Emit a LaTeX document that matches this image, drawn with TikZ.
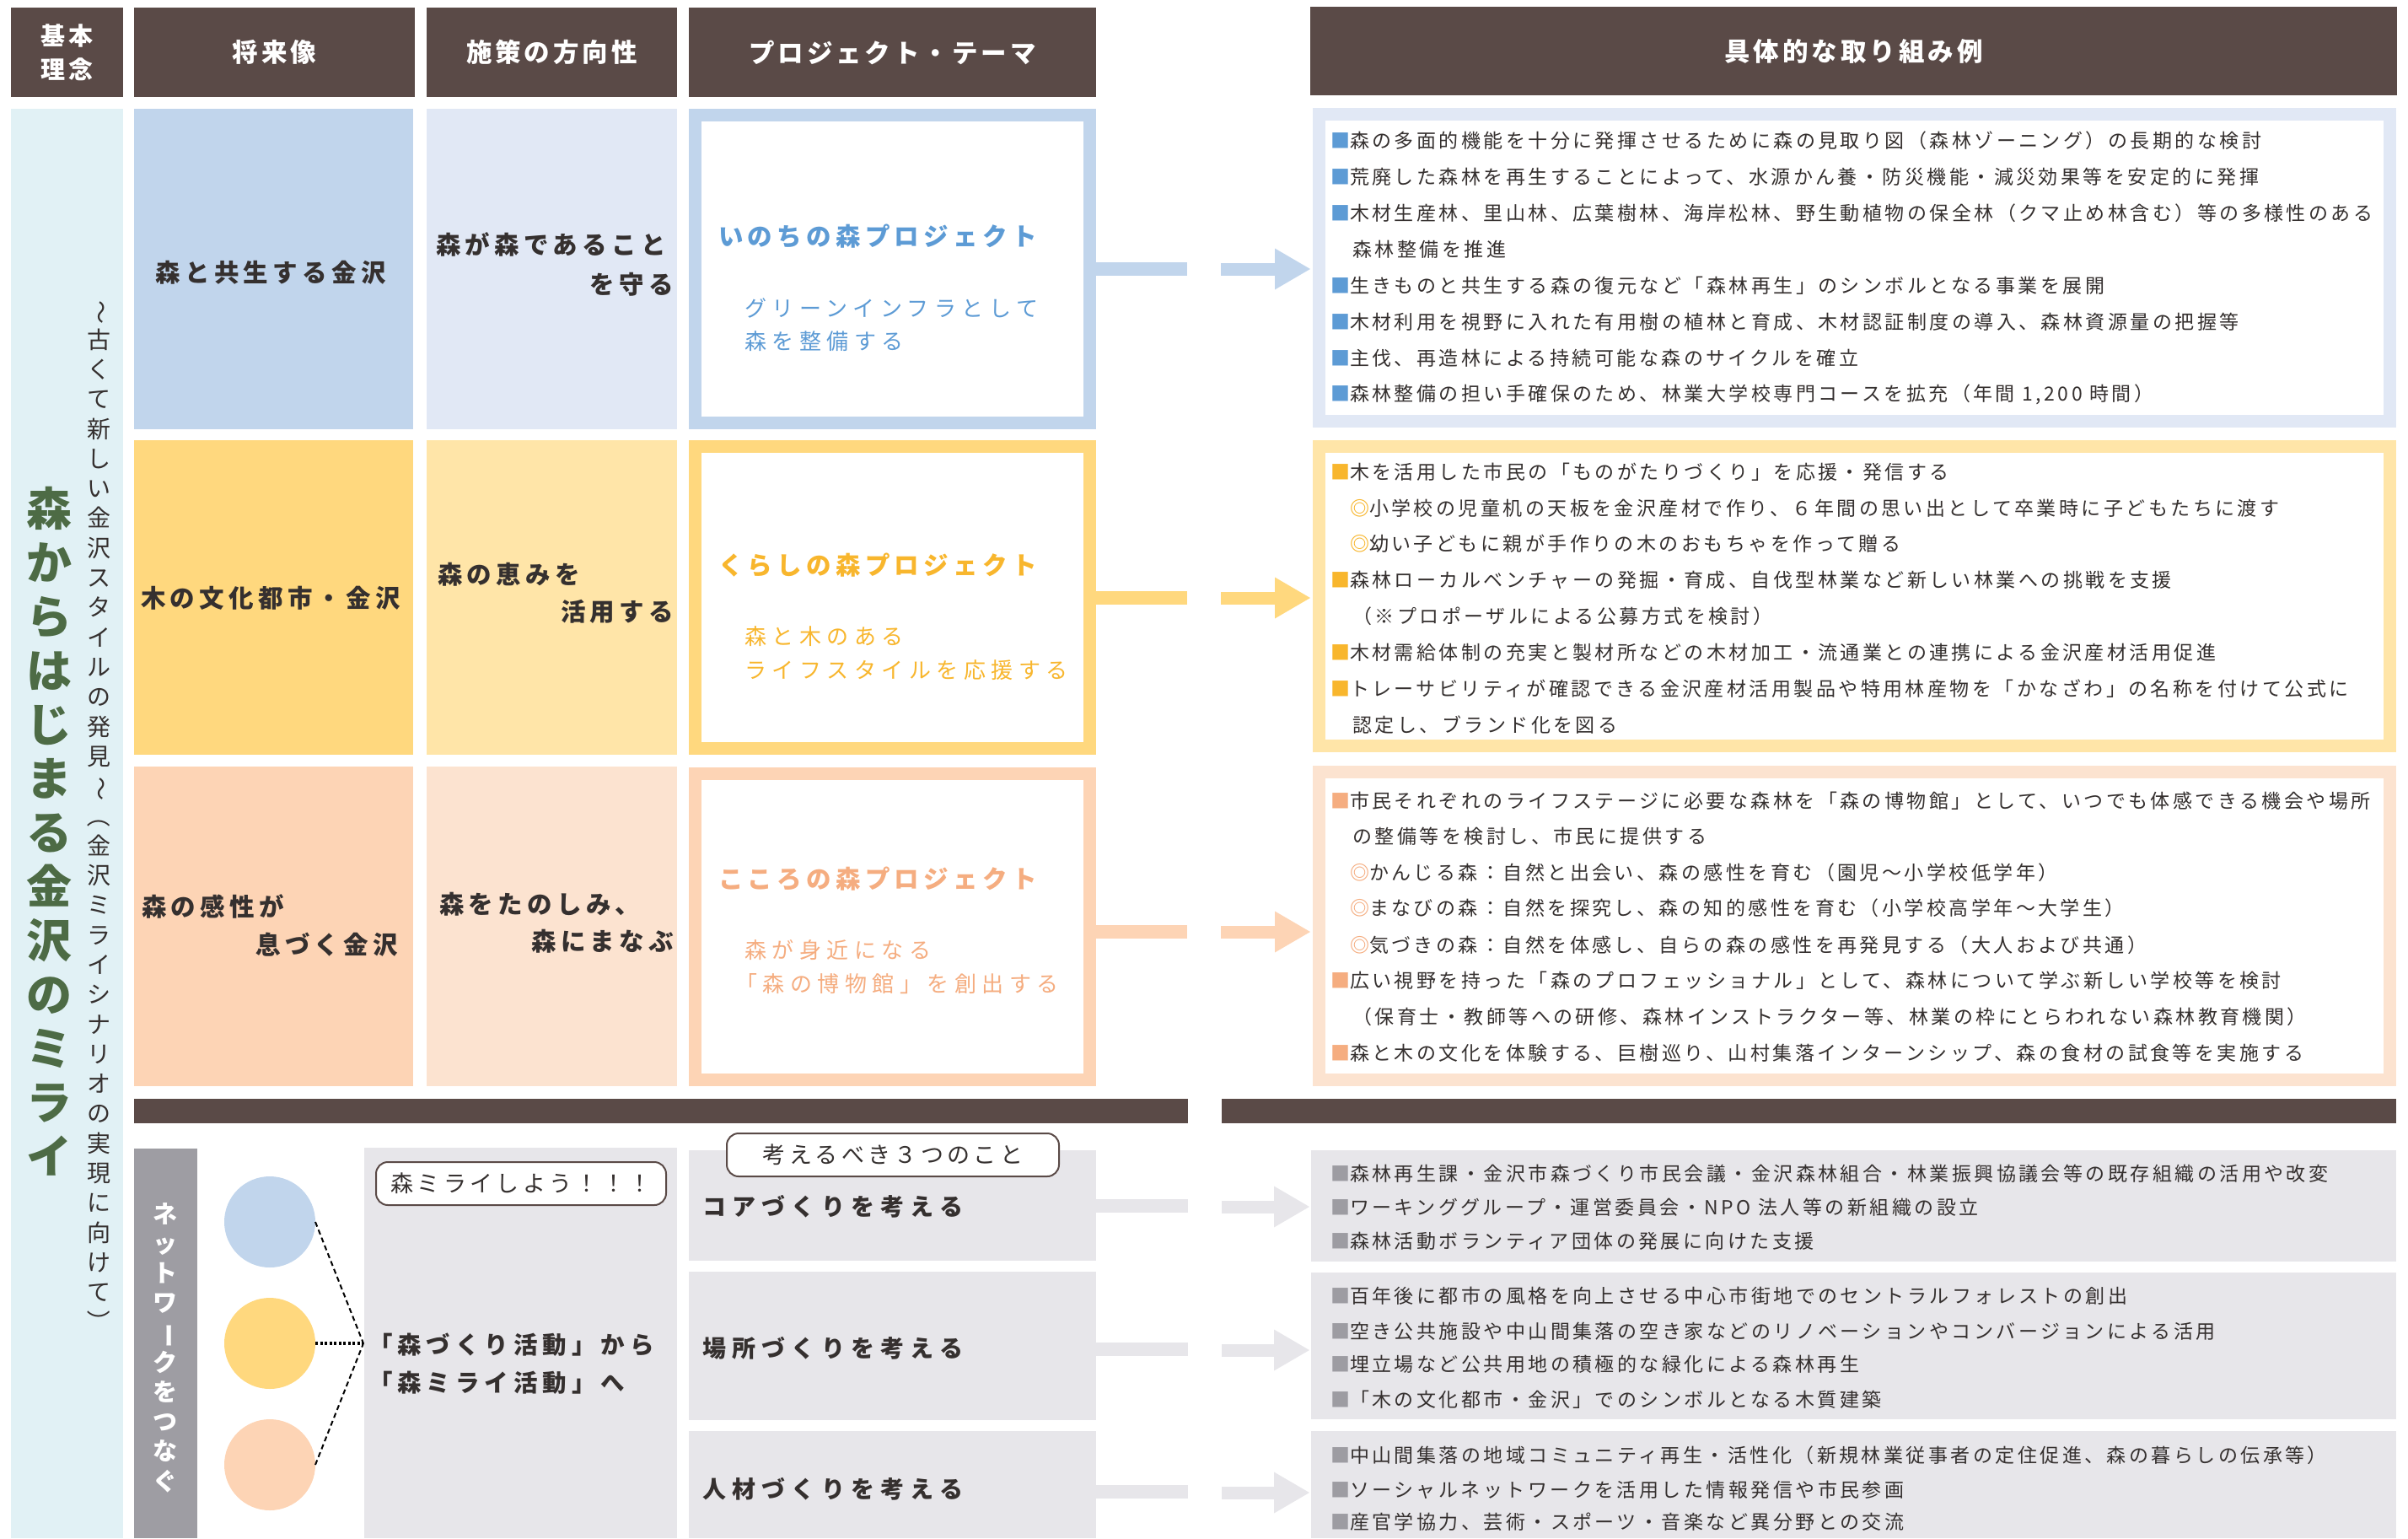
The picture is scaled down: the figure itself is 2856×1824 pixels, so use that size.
\documentclass[tikz,border=0pt]{standalone}
\usepackage{fontspec}
\setmainfont{Noto Sans CJK JP}
\usepackage{graphicx}
\usetikzlibrary{arrows.meta}
\definecolor{hdr}{HTML}{5A4A47}
\definecolor{txt}{HTML}{35302F}
\definecolor{cyanS}{HTML}{E1F1F5}
\definecolor{green}{HTML}{4D6B45}
\definecolor{bluA}{HTML}{C1D5EC}
\definecolor{bluB}{HTML}{E1E8F5}
\definecolor{yelA}{HTML}{FFD87E}
\definecolor{yelB}{HTML}{FFE5A8}
\definecolor{pchA}{HTML}{FDD4B5}
\definecolor{pchB}{HTML}{FCE3D0}
\definecolor{grayA}{HTML}{E7E6EA}
\definecolor{grayB}{HTML}{9E9DA3}
\definecolor{bluT}{HTML}{5D9BD5}
\definecolor{yelT}{HTML}{F8B62D}
\definecolor{pchT}{HTML}{F5AD80}
\definecolor{bulD}{HTML}{9D9CA2}
\newcommand\bA{\textcolor{bluT}{■}}
\newcommand\bB{\textcolor{yelT}{■}}
\newcommand\bC{\textcolor{pchT}{■}}
\newcommand\bD{\textcolor{bulD}{■}}
\newcommand\oB{\textcolor{yelT}{\bfseries ◎}}
\newcommand\oC{\textcolor{pchT}{\bfseries ◎}}
\newcommand\vr[1]{\rotatebox[origin=c]{-90}{#1}}
\newcommand\fbody{\fontsize{23}{26}\selectfont\addfontfeatures{LetterSpace=15}}
\newcommand\fhead{\fontsize{30.5}{40}\selectfont\bfseries\addfontfeatures{LetterSpace=13}}
\newcommand\flabel{\fontsize{29.5}{36}\selectfont\bfseries\addfontfeatures{LetterSpace=18}}
\newcommand\fsub{\fontsize{26}{30}\selectfont\addfontfeatures{LetterSpace=25}}
\tikzset{
  every node/.style={inner sep=0pt, outer sep=0pt},
  plain/.style={anchor=north west, draw=none},
  thick box/.style={anchor=north west, line width=15, fill=white},
  body/.style={font=\fbody, text=txt, anchor=west},
  hdrbox/.style={plain, fill=hdr, text=white, font=\fhead, align=center},
  label/.style={font=\flabel, text=txt},
  ptitle/.style={font=\flabel, anchor=west},
  psub/.style={font=\fsub, anchor=west},
  stub/.style={line width=16},
  blockarrow/.style={line width=15, -{Triangle[length=42pt,width=49pt,line width=0pt]}},
  tag/.style={draw=hdr, line width=2, fill=white, rounded corners=14, text=txt},
  dashl/.style={line width=2, dash pattern=on 6pt off 4pt, draw=black},
  dotl/.style={line width=3.5, dash pattern=on 3pt off 2.5pt, draw=black},
}
\begin{document}
\begin{tikzpicture}[x=1pt,y=-1pt]
\useasboundingbox (0,0) rectangle (2856,1824);
\clip (0,0) rectangle (2856,1824);
% headers
\node[hdrbox, minimum width=133, minimum height=106, font=\fontsize{29}{40}\selectfont\bfseries\addfontfeatures{LetterSpace=14}] (h0) at (13,9) {基本\\理念};
\node[hdrbox, minimum width=333, minimum height=106] (h1) at (159,9) {将来像};
\node[hdrbox, minimum width=297, minimum height=106] (h2) at (506,9) {施策の方向性};
\node[hdrbox, minimum width=483, minimum height=106] (h3) at (817,9) {プロジェクト・テーマ};
\node[hdrbox, minimum width=1289, minimum height=105] (h4) at (1554,8) {具体的な取り組み例};
% left strip
\node[plain, fill=cyanS, minimum width=133, minimum height=1695] (strip) at (13,129) {};
\node[font=\fontsize{54}{64}\selectfont\bfseries, text=green, align=center] (title) at (58,986)
  {森\\か\\ら\\は\\じ\\ま\\る\\金\\沢\\の\\ミ\\ラ\\イ};
\node[font=\fontsize{28}{35.3}\selectfont, text=txt, align=center] (subtitle) at (117,969)
  {\vr{〜}\\古\\く\\て\\新\\し\\い\\金\\沢\\ス\\タ\\イ\\ル\\の\\発\\見\\\vr{〜}\\\vr{（}\\金\\沢\\ミ\\ラ\\イ\\シ\\ナ\\リ\\オ\\の\\実\\現\\に\\向\\け\\て\\\vr{）}};
% row 1
\node[plain, fill=bluA, minimum width=331, minimum height=380] (fA) at (159,129) {};
\node[plain, fill=bluB, minimum width=297, minimum height=380] (pA) at (506,129) {};
\node[label] (fAt) at (321,323) {森と共生する金沢};
\node[label, anchor=west] (pAt1) at (517,290) {森が森であること};
\node[label, anchor=east] (pAt2) at (799,337) {を守る};
\node[thick box, draw=bluA, minimum width=468, minimum height=365] (projA) at (824.5,136.5) {};
\node[ptitle, text=bluT] (projAt) at (852,280) {いのちの森プロジェクト};
\node[psub, text=bluT] (projAs1) at (883,365) {グリーンインフラとして};
\node[psub, text=bluT] (projAs2) at (883,405) {森を整備する};
\node[thick box, draw=bluB, minimum width=1270, minimum height=364] (rightA) at (1564.5,135.5) {};
% row 2
\node[plain, fill=yelA, minimum width=331, minimum height=373] (fB) at (159,522) {};
\node[plain, fill=yelB, minimum width=297, minimum height=373] (pB) at (506,522) {};
\node[label] (fBt) at (321,709) {木の文化都市・金沢};
\node[label, anchor=west] (pBt1) at (519,681) {森の恵みを};
\node[label, anchor=east] (pBt2) at (799,725) {活用する};
\node[thick box, draw=yelA, minimum width=468, minimum height=358] (projB) at (824.5,529.5) {};
\node[ptitle, text=yelT] (projBt) at (852,670) {くらしの森プロジェクト};
\node[psub, text=yelT] (projBs1) at (883,755) {森と木のある};
\node[psub, text=yelT] (projBs2) at (883,795) {ライフスタイルを応援する};
\node[thick box, draw=yelB, minimum width=1270, minimum height=355] (rightB) at (1564.5,529.5) {};
% row 3
\node[plain, fill=pchA, minimum width=331, minimum height=379] (fC) at (159,909) {};
\node[plain, fill=pchB, minimum width=297, minimum height=379] (pC) at (506,909) {};
\node[label, anchor=west] (fCt1) at (168,1075) {森の感性が};
\node[label, anchor=east] (fCt2) at (472,1120) {息づく金沢};
\node[label, anchor=west] (pCt1) at (521,1072) {森をたのしみ、};
\node[label, anchor=east] (pCt2) at (799,1116) {森にまなぶ};
\node[thick box, draw=pchA, minimum width=468, minimum height=363] (projC) at (824.5,917.5) {};
\node[ptitle, text=pchT] (projCt) at (852,1042) {こころの森プロジェクト};
\node[psub, text=pchT] (projCs1) at (883,1127) {森が身近になる};
\node[psub, text=pchT] (projCs2) at (872,1167) {「森の博物館」を創出する};
\node[thick box, draw=pchB, minimum width=1270, minimum height=365] (rightC) at (1564.5,915.5) {};
% right texts
\foreach \yy/\txt [count=\i] in {
 167/{\bA 森の多面的機能を十分に発揮させるために森の見取り図（森林ゾーニング）の長期的な検討},
 210/{\bA 荒廃した森林を再生することによって、水源かん養・防災機能・減災効果等を安定的に発揮},
 253/{\bA 木材生産林、里山林、広葉樹林、海岸松林、野生動植物の保全林（クマ止め林含む）等の多様性のある},
 296/{　森林整備を推進},
 339/{\bA 生きものと共生する森の復元など「森林再生」のシンボルとなる事業を展開},
 382/{\bA 木材利用を視野に入れた有用樹の植林と育成、木材認証制度の導入、森林資源量の把握等},
 425/{\bA 主伐、再造林による持続可能な森のサイクルを確立},
 468/{\bA 森林整備の担い手確保のため、林業大学校専門コースを拡充（年間 1,200 時間）}}
 {\node[body] (ra\i) at (1578,\yy) {\txt};}
\foreach \yy/\txt [count=\i] in {
 560/{\bB 木を活用した市民の「ものがたりづくり」を応援・発信する},
 603/{　\oB 小学校の児童机の天板を金沢産材で作り、６年間の思い出として卒業時に子どもたちに渡す},
 645/{　\oB 幼い子どもに親が手作りの木のおもちゃを作って贈る},
 688/{\bB 森林ローカルベンチャーの発掘・育成、自伐型林業など新しい林業への挑戦を支援},
 731/{　（※プロポーザルによる公募方式を検討）},
 774/{\bB 木材需給体制の充実と製材所などの木材加工・流通業との連携による金沢産材活用促進},
 817/{\bB トレーサビリティが確認できる金沢産材活用製品や特用林産物を「かなざわ」の名称を付けて公式に},
 860/{　認定し、ブランド化を図る}}
 {\node[body] (rb\i) at (1578,\yy) {\txt};}
\foreach \yy/\txt [count=\i] in {
 950/{\bC 市民それぞれのライフステージに必要な森林を「森の博物館」として、いつでも体感できる機会や場所},
 992/{　の整備等を検討し、市民に提供する},
 1035/{　\oC かんじる森：自然と出会い、森の感性を育む（園児〜小学校低学年）},
 1077/{　\oC まなびの森：自然を探究し、森の知的感性を育む（小学校高学年〜大学生）},
 1121/{　\oC 気づきの森：自然を体感し、自らの森の感性を再発見する（大人および共通）},
 1163/{\bC 広い視野を持った「森のプロフェッショナル」として、森林について学ぶ新しい学校等を検討},
 1206/{　（保育士・教師等への研修、森林インストラクター等、林業の枠にとらわれない森林教育機関）},
 1249/{\bC 森と木の文化を体験する、巨樹巡り、山村集落インターンシップ、森の食材の試食等を実施する}}
 {\node[body] (rc\i) at (1578,\yy) {\txt};}
% connectors rows
\coordinate (sA) at (1408,319);
\coordinate (aA) at (1448,319);
\draw[stub, bluA] (projA.east) -- (sA);
\draw[blockarrow, bluA, shorten >=10.5pt] (aA) -- (rightA.west |- aA);
\coordinate (sB) at (1408,709);
\coordinate (aB) at (1448,709);
\draw[stub, yelA] (projB.east |- sB) -- (sB);
\draw[blockarrow, yelA, shorten >=10.5pt] (aB) -- (rightB.west |- aB);
\coordinate (sC) at (1408,1105);
\coordinate (aC) at (1448,1105);
\draw[stub, pchA] (projC.east |- sC) -- (sC);
\draw[blockarrow, pchA, shorten >=10.5pt] (aC) -- (rightC.west |- aC);
% separators
\node[plain, fill=hdr, minimum width=1250, minimum height=29] (sepL) at (159,1303) {};
\node[plain, fill=hdr, minimum width=1393, minimum height=29] (sepR) at (1449,1303) {};
% bottom section
\node[plain, fill=grayB, minimum width=75, minimum height=462] (net) at (159,1362) {};
\node[font=\fontsize{29}{35.2}\selectfont\bfseries, text=white, align=center] (nett) at (196,1598)
  {ネ\\ッ\\ト\\ワ\\\vr{ー}\\ク\\を\\つ\\な\\ぐ};
\node[circle, fill=bluA, minimum size=108] (cB) at (320,1449) {};
\node[circle, fill=yelA, minimum size=108] (cY) at (320,1593) {};
\node[circle, fill=pchA, minimum size=108] (cP) at (320,1737) {};
\coordinate (hub) at (431,1593);
\draw[dashl] (cB.east) -- (hub);
\draw[dashl] (cP.east) -- (hub);
\draw[dotl] (cY.east) -- (hub);
\node[plain, fill=grayA, minimum width=371, minimum height=463] (g2) at (432,1361) {};
\node[tag, minimum width=344, minimum height=51, font=\fontsize{27}{30}\selectfont\addfontfeatures{LetterSpace=16}] (tag1) at (618,1403.5) {森ミライしよう！！！};
\node[font=\fontsize{28.5}{34}\selectfont\bfseries\addfontfeatures{LetterSpace=21}, text=txt, anchor=west] (act1) at (437,1595) {「森づくり活動」から};
\node[font=\fontsize{28.5}{34}\selectfont\bfseries\addfontfeatures{LetterSpace=21}, text=txt, anchor=west] (act2) at (437,1640) {「森ミライ活動」へ};
\node[plain, fill=grayA, minimum width=483, minimum height=131] (gA) at (817,1364) {};
\node[plain, fill=grayA, minimum width=483, minimum height=176] (gB) at (817,1508) {};
\node[plain, fill=grayA, minimum width=483, minimum height=127] (gC) at (817,1697) {};
\node[tag, minimum width=394, minimum height=51, font=\fontsize{27}{30}\selectfont\addfontfeatures{LetterSpace=16}] (tag2) at (1059,1369.5) {考えるべき３つのこと};
\node[font=\fontsize{28}{34}\selectfont\bfseries\addfontfeatures{LetterSpace=26}, text=txt, anchor=west] (gAt) at (833,1431) {コアづくりを考える};
\node[font=\fontsize{28}{34}\selectfont\bfseries\addfontfeatures{LetterSpace=26}, text=txt, anchor=west] (gBt) at (833,1599) {場所づくりを考える};
\node[font=\fontsize{28}{34}\selectfont\bfseries\addfontfeatures{LetterSpace=26}, text=txt, anchor=west] (gCt) at (833,1766) {人材づくりを考える};
\node[plain, fill=grayA, minimum width=1287, minimum height=132] (rA) at (1555,1364) {};
\node[plain, fill=grayA, minimum width=1287, minimum height=174] (rB) at (1555,1509) {};
\node[plain, fill=grayA, minimum width=1287, minimum height=127] (rC) at (1555,1697) {};
\foreach \yy/\txt [count=\i] in {
 1392/{\bD 森林再生課・金沢市森づくり市民会議・金沢森林組合・林業振興協議会等の既存組織の活用や改変},
 1432/{\bD ワーキンググループ・運営委員会・NPO 法人等の新組織の設立},
 1472/{\bD 森林活動ボランティア団体の発展に向けた支援},
 1537/{\bD 百年後に都市の風格を向上させる中心市街地でのセントラルフォレストの創出},
 1579/{\bD 空き公共施設や中山間集落の空き家などのリノベーションやコンバージョンによる活用},
 1618/{\bD 埋立場など公共用地の積極的な緑化による森林再生},
 1660/{\bD 「木の文化都市・金沢」でのシンボルとなる木質建築},
 1726/{\bD 中山間集落の地域コミュニティ再生・活性化（新規林業従事者の定住促進、森の暮らしの伝承等）},
 1767/{\bD ソーシャルネットワークを活用した情報発信や市民参画},
 1805/{\bD 産官学協力、芸術・スポーツ・音楽など異分野との交流}}
 {\node[body] (rd\i) at (1578,\yy) {\txt};}
\coordinate (sD1) at (1409,1430);
\coordinate (aD1) at (1449,1431);
\draw[stub, grayA] (gA.east |- sD1) -- (sD1);
\draw[blockarrow, grayA, shorten >=2pt] (aD1) -- (rA.west |- aD1);
\coordinate (sD2) at (1409,1600);
\coordinate (aD2) at (1449,1601);
\draw[stub, grayA] (gB.east |- sD2) -- (sD2);
\draw[blockarrow, grayA, shorten >=2pt] (aD2) -- (rB.west |- aD2);
\coordinate (sD3) at (1409,1769);
\coordinate (aD3) at (1449,1770);
\draw[stub, grayA] (gC.east |- sD3) -- (sD3);
\draw[blockarrow, grayA, shorten >=2pt] (aD3) -- (rC.west |- aD3);
\end{tikzpicture}
\end{document}
